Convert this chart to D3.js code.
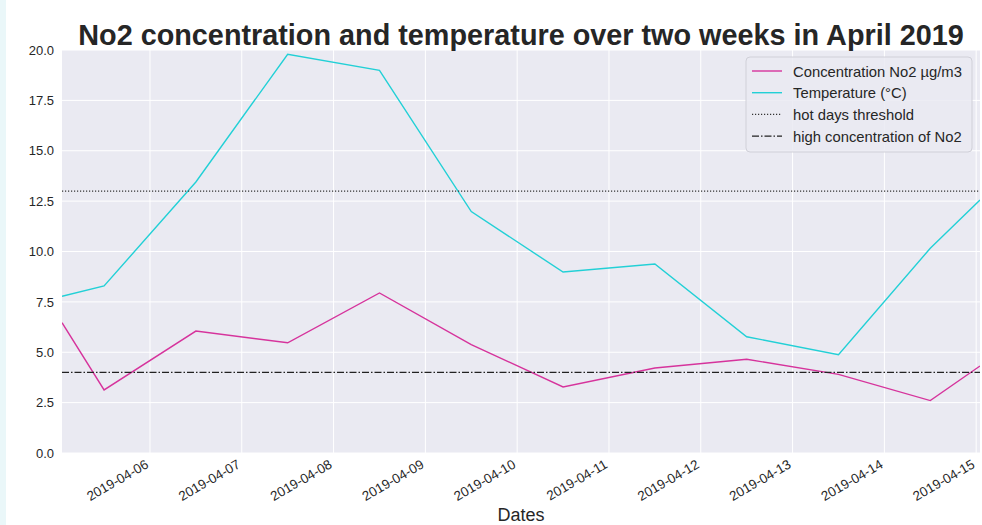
<!DOCTYPE html>
<html>
<head>
<meta charset="utf-8">
<script src="https://cdn.jsdelivr.net/npm/d3@7"></script>
<style>
  html, body { margin: 0; padding: 0; background: #ffffff; }
  svg { display: block; }
</style>
</head>
<body>
<svg id="chart" width="982" height="525"></svg>
<script>
// ---- data ----
const dates = [
  "2019-04-05T01:00", "2019-04-05T12:00", "2019-04-06T12:00", "2019-04-07T12:00",
  "2019-04-08T12:00", "2019-04-09T12:00", "2019-04-10T12:00", "2019-04-11T12:00",
  "2019-04-12T12:00", "2019-04-13T12:00", "2019-04-14T12:00", "2019-04-15T01:00"
];
const no2 = [6.47, 3.13, 6.05, 5.47, 7.94, 5.38, 3.28, 4.22, 4.65, 3.90, 2.60, 4.32];
const temperature = [7.78, 8.29, 13.45, 19.79, 18.99, 11.98, 8.98, 9.38, 5.77, 4.88, 10.16, 12.56];
const hotDaysThreshold = 13.0;
const highNo2Threshold = 4.0;
const yTicks = [0, 2.5, 5, 7.5, 10, 12.5, 15, 17.5, 20];
const xTickLabels = ["2019-04-06", "2019-04-07", "2019-04-08", "2019-04-09", "2019-04-10",
                     "2019-04-11", "2019-04-12", "2019-04-13", "2019-04-14", "2019-04-15"];
const seriesNames = ["Concentration No2 µg/m3", "Temperature (°C)", "hot days threshold", "high concentration of No2"];

// ---- layout ----
const W = 982, H = 525;
const m = { left: 62, right: 2, top: 50, bottom: 72 };
const pw = W - m.left - m.right, ph = H - m.top - m.bottom;
const parse = d3.timeParse("%Y-%m-%dT%H:%M");
const parseDay = d3.timeParse("%Y-%m-%d");
const tDates = dates.map(parse);

const x = d3.scaleTime().domain([tDates[0], tDates[tDates.length - 1]]).range([0, pw]);
const y = d3.scaleLinear().domain([0, 20]).range([ph, 0]);

const svg = d3.select("#chart");
svg.append("rect").attr("x", 0).attr("y", 0).attr("width", 6).attr("height", H).attr("fill", "#eaf7f9");

const g = svg.append("g").attr("transform", `translate(${m.left},${m.top})`);
g.append("rect").attr("width", pw).attr("height", ph).attr("fill", "#eaeaf2");

const clip = svg.append("defs").append("clipPath").attr("id", "clip");
clip.append("rect").attr("width", pw).attr("height", ph);

// grid
const xTickDates = xTickLabels.map(parseDay);
g.selectAll(".gx").data(xTickDates).enter().append("line")
  .attr("x1", d => x(d)).attr("x2", d => x(d)).attr("y1", 0).attr("y2", ph)
  .attr("stroke", "#ffffff").attr("stroke-width", 1);
g.selectAll(".gy").data(yTicks).enter().append("line")
  .attr("x1", 0).attr("x2", pw).attr("y1", d => y(d)).attr("y2", d => y(d))
  .attr("stroke", "#ffffff").attr("stroke-width", 1);

// axes
const font = "'Liberation Sans', Arial, Helvetica, sans-serif";
const yAxis = g.append("g").call(d3.axisLeft(y).tickValues(yTicks).tickSize(0).tickPadding(8).tickFormat(d3.format(".1f")));
yAxis.select(".domain").remove();
yAxis.selectAll("text").attr("font-family", font).attr("font-size", 13).attr("fill", "#262626");

const xAxis = g.append("g").attr("transform", `translate(0,${ph})`)
  .call(d3.axisBottom(x).tickValues(xTickDates).tickSize(0).tickFormat(d3.timeFormat("%Y-%m-%d")));
xAxis.select(".domain").remove();
xAxis.selectAll("text")
  .attr("font-family", font).attr("font-size", 13.4).attr("fill", "#262626")
  .attr("text-anchor", "end").attr("dy", 0).attr("y", 0)
  .attr("transform", "translate(-1,14) rotate(-30)");

// lines
const plot = g.append("g").attr("clip-path", "url(#clip)");
const line = d3.line().x((d, i) => x(tDates[i])).y(d => y(d));
plot.append("path").datum(no2).attr("d", line).attr("fill", "none").attr("stroke", "#d6339c").attr("stroke-width", 1.4);
plot.append("path").datum(temperature).attr("d", line).attr("fill", "none").attr("stroke", "#22d0d6").attr("stroke-width", 1.4);
plot.append("line").attr("x1", 0).attr("x2", pw).attr("y1", y(hotDaysThreshold)).attr("y2", y(hotDaysThreshold))
  .attr("stroke", "#333").attr("stroke-width", 1.2).attr("stroke-dasharray", "1.2,1.8");
plot.append("line").attr("x1", 0).attr("x2", pw).attr("y1", y(highNo2Threshold)).attr("y2", y(highNo2Threshold))
  .attr("stroke", "#222").attr("stroke-width", 1.2).attr("stroke-dasharray", "7,2,1.5,2");

// title & axis label
svg.append("text").attr("x", 521).attr("y", 45).attr("text-anchor", "middle")
  .attr("font-family", font).attr("font-weight", "bold").attr("font-size", 28.8).attr("fill", "#262626")
  .text("No2 concentration and temperature over two weeks in April 2019");
svg.append("text").attr("x", 521).attr("y", 521).attr("text-anchor", "middle")
  .attr("font-family", font).attr("font-size", 18).attr("fill", "#262626").text("Dates");

// legend
const lg = svg.append("g").attr("transform", "translate(746,57)");
lg.append("rect").attr("width", 226).attr("height", 95).attr("rx", 4)
  .attr("fill", "#eaeaf2").attr("fill-opacity", 0.85).attr("stroke", "#d0d0d8").attr("stroke-width", 1);
const legStyles = [
  { color: "#d6339c", dash: null, w: 1.4 },
  { color: "#22d0d6", dash: null, w: 1.4 },
  { color: "#333", dash: "1.2,1.8", w: 1.2 },
  { color: "#222", dash: "7,2,1.5,2", w: 1.2 }
];
seriesNames.forEach((name, i) => {
  const yy = 14 + i * 21.7;
  lg.append("line").attr("x1", 6).attr("x2", 36).attr("y1", yy).attr("y2", yy)
    .attr("stroke", legStyles[i].color).attr("stroke-width", legStyles[i].w)
    .attr("stroke-dasharray", legStyles[i].dash);
  lg.append("text").attr("x", 47).attr("y", yy + 5.5).attr("font-family", font).attr("font-size", 14.8)
    .attr("fill", "#262626").text(name);
});
</script>
</body>
</html>
